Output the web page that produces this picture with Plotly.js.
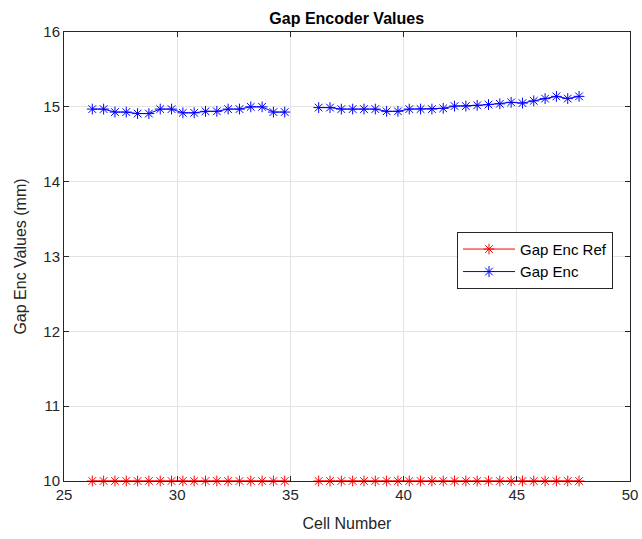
<!DOCTYPE html>
<html>
<head>
<meta charset="utf-8">
<script src="https://cdn.plot.ly/plotly-3.0.1.min.js"></script>
<style>html,body{margin:0;padding:0;background:#fff;}#chart{width:642px;height:539px;}</style>
</head>
<body>
<div id="chart"></div>
<script>
// Cell numbers (gap between 34.75 and 36.25 is a break in the data)
const cellNumbers = [26.25,26.75,27.25,27.75,28.25,28.75,29.25,29.75,30.25,30.75,31.25,31.75,32.25,32.75,33.25,33.75,34.25,34.75,
  35.5,
  36.25,36.75,37.25,37.75,38.25,38.75,39.25,39.75,40.25,40.75,41.25,41.75,42.25,42.75,43.25,43.75,44.25,44.75,45.25,45.75,46.25,46.75,47.25,47.75];
const gapEncRef = [10,10,10,10,10,10,10,10,10,10,10,10,10,10,10,10,10,10,
  null,
  10,10,10,10,10,10,10,10,10,10,10,10,10,10,10,10,10,10,10,10,10,10,10,10];
const gapEnc = [14.97,14.97,14.93,14.93,14.91,14.91,14.97,14.97,14.92,14.92,14.94,14.94,14.97,14.97,15.0,15.0,14.93,14.93,
  null,
  14.99,14.99,14.97,14.97,14.97,14.97,14.94,14.94,14.97,14.97,14.97,14.98,15.01,15.01,15.02,15.03,15.04,15.06,15.05,15.08,15.11,15.14,15.11,15.14];
const xTicks = [25,30,35,40,45,50];
const yTicks = [10,11,12,13,14,15,16];

const FONT = 'Liberation Sans, Arial, sans-serif';
const traces = [
  {x: cellNumbers, y: gapEncRef, name: 'Gap Enc Ref', type: 'scatter', mode: 'lines+markers',
   connectgaps: false, cliponaxis: false,
   line: {color: '#ff0000', width: 1}, marker: {symbol: 'asterisk-open', size: 9, color: '#ff0000', line: {color: '#ff0000', width: 1}}},
  {x: cellNumbers, y: gapEnc, name: 'Gap Enc', type: 'scatter', mode: 'lines+markers',
   connectgaps: false, cliponaxis: false,
   line: {color: '#0000ff', width: 1}, marker: {symbol: 'asterisk-open', size: 9, color: '#0000ff', line: {color: '#0000ff', width: 1}}}
];
const axisCommon = {
  showline: true, mirror: 'ticks', linecolor: '#262626', linewidth: 1,
  ticks: 'inside', ticklen: 5, tickcolor: '#262626',
  showgrid: true, gridcolor: '#e3e3e3', gridwidth: 1, zeroline: false,
  tickfont: {family: FONT, size: 15, color: '#262626'}
};
const layout = {
  width: 642, height: 539,
  margin: {l: 64, r: 12, t: 32, b: 58},
  paper_bgcolor: '#ffffff', plot_bgcolor: '#ffffff',
  title: {text: '<b>Gap Encoder Values</b>', x: 0.54, xanchor: 'center', y: 0.965, yanchor: 'middle',
          font: {family: FONT, size: 16, color: '#000000'}},
  xaxis: Object.assign({}, axisCommon, {range: [25, 50], tickvals: xTicks, ticktext: xTicks.map(String),
          title: {text: 'Cell Number', font: {family: FONT, size: 16, color: '#262626'}, standoff: 15}}),
  yaxis: Object.assign({}, axisCommon, {range: [10, 16], tickvals: yTicks, ticktext: yTicks.map(String),
          title: {text: 'Gap Enc Values (mm)', font: {family: FONT, size: 16, color: '#262626'}, standoff: 12}}),
  legend: {x: 0.97, xanchor: 'right', y: 0.555, yanchor: 'top', bgcolor: '#ffffff',
           bordercolor: '#262626', borderwidth: 1, font: {family: FONT, size: 15, color: '#000000'},
           tracegroupgap: 0, itemwidth: 52},
  showlegend: true
};
Plotly.newPlot('chart', traces, layout, {displayModeBar: false, staticPlot: true});
</script>
</body>
</html>
